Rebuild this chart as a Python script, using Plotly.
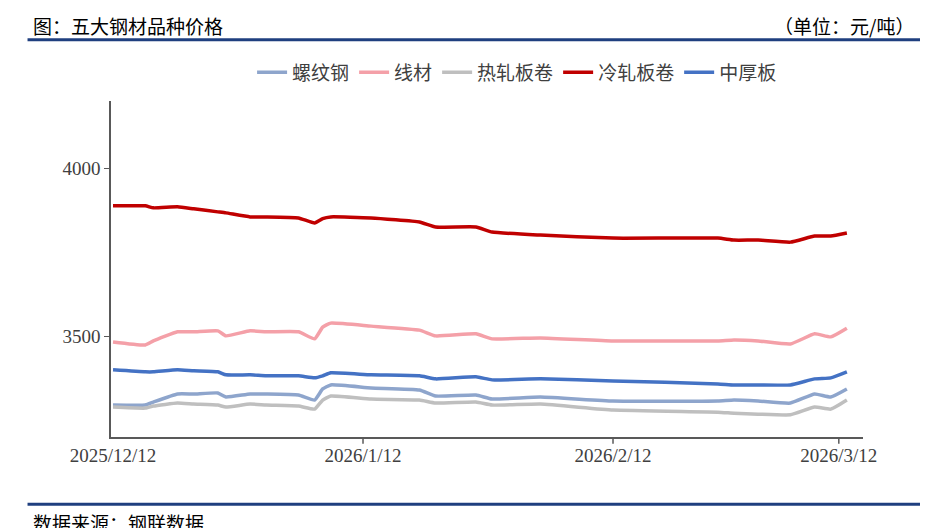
import plotly.graph_objects as go

dates = ["2025-12-12","2025-12-16","2025-12-17","2025-12-20","2025-12-22","2025-12-25","2025-12-26",
         "2025-12-29","2025-12-31","2026-01-04","2026-01-06","2026-01-07","2026-01-08","2026-01-13",
         "2026-01-19","2026-01-21","2026-01-26","2026-01-28","2026-02-03","2026-02-12","2026-02-25",
         "2026-02-27","2026-03-02","2026-03-06","2026-03-09","2026-03-11","2026-03-13"]
rebar = [3295,3295,3304,3328,3328,3331,3319,3328,3328,3325,3310,3343,3355,3346,3340,3322,3325,3313,3319,3307,3307,3310,3307,3301,3328,3319,3343]
wire = [3483,3474,3486,3513,3513,3516,3501,3516,3513,3513,3492,3527,3539,3530,3518,3501,3507,3492,3495,3486,3486,3489,3486,3477,3507,3498,3524]
hrc = [3289,3286,3292,3301,3298,3295,3289,3298,3295,3292,3283,3310,3322,3313,3310,3301,3304,3295,3298,3280,3274,3271,3268,3266,3289,3283,3310]
crc = [3888,3888,3882,3885,3879,3870,3867,3855,3855,3852,3837,3850,3855,3852,3840,3825,3825,3810,3801,3792,3792,3786,3786,3780,3798,3798,3807]
plate = [3400,3394,3394,3400,3397,3394,3385,3385,3382,3382,3376,3382,3391,3385,3382,3373,3379,3370,3373,3367,3358,3355,3355,3355,3373,3376,3394]

names = ["螺纹钢","线材","热轧板卷","冷轧板卷","中厚板"]
colors = ["#8EA5CC","#F4A0A8","#BFBFBF","#C00000","#4472C4"]
series = [rebar, wire, hrc, crc, plate]
tick_vals = ["2025-12-12","2026-01-12","2026-02-12","2026-03-12"]
tick_text = ["2025/12/12","2026/1/12","2026/2/12","2026/3/12"]

fig = go.Figure()
for n, c, s in zip(names, colors, series):
    fig.add_trace(go.Scatter(x=dates, y=s, name=n, mode="lines",
                             line=dict(color=c, width=3.5, shape="spline", smoothing=0.4)))

serif = "Liberation Serif"
cjk = "Noto Sans CJK SC"
fig.update_layout(
    width=928, height=528, paper_bgcolor="white", plot_bgcolor="white",
    margin=dict(l=103, r=73, t=93, b=99, autoexpand=False),
    font=dict(family=serif, color="#404040"),
    showlegend=True,
    legend=dict(orientation="h", x=0.54, xanchor="center", y=1.085, yanchor="middle",
                font=dict(family=cjk, size=19, color="#404040"), tracegroupgap=0),
    xaxis=dict(type="date", range=["2025-12-11 18:00","2026-03-15"], tickvals=tick_vals, ticktext=tick_text,
               showgrid=False, showline=True, linecolor="#595959", linewidth=1.5,
               ticks="outside", ticklen=0, tickfont=dict(family=serif, size=19, color="#404040")),
    yaxis=dict(range=[3200,4200], dtick=500, showgrid=False, showline=True, linecolor="#595959", linewidth=1.5,
               ticks="outside", ticklen=5, tickcolor="#595959", tickfont=dict(family=serif, size=19, color="#404040")),
    shapes=[
        dict(type="line", xref="paper", yref="paper", x0=-0.111, x1=1.092, y0=1.182, y1=1.182, line=dict(color="#1F3F7F", width=3)),
        dict(type="line", xref="paper", yref="paper", x0=-0.111, x1=1.092, y0=-0.2, y1=-0.2, line=dict(color="#1F3F7F", width=3)),
        dict(type="line", xref="x", yref="paper", x0="2026-01-12", x1="2026-01-12", y0=0, y1=-0.02, line=dict(color="#595959", width=1.5)),
        dict(type="line", xref="x", yref="paper", x0="2026-02-12", x1="2026-02-12", y0=0, y1=-0.02, line=dict(color="#595959", width=1.5)),
        dict(type="line", xref="x", yref="paper", x0="2026-03-12", x1="2026-03-12", y0=0, y1=-0.02, line=dict(color="#595959", width=1.5)),
    ],
    annotations=[
        dict(text="图：五大钢材品种价格", xref="paper", yref="paper", x=-0.107, y=1.225, xanchor="left", yanchor="middle",
             showarrow=False, font=dict(family=cjk, size=19, color="#000")),
        dict(text="（单位：元/吨）", xref="paper", yref="paper", x=1.07, y=1.225, xanchor="right", yanchor="middle",
             showarrow=False, font=dict(family=cjk, size=19, color="#000")),
        dict(text="数据来源：钢联数据", xref="paper", yref="paper", x=-0.107, y=-0.253, xanchor="left", yanchor="middle",
             showarrow=False, font=dict(family=cjk, size=19, color="#000")),
    ],
)
fig.write_html("out.html")
